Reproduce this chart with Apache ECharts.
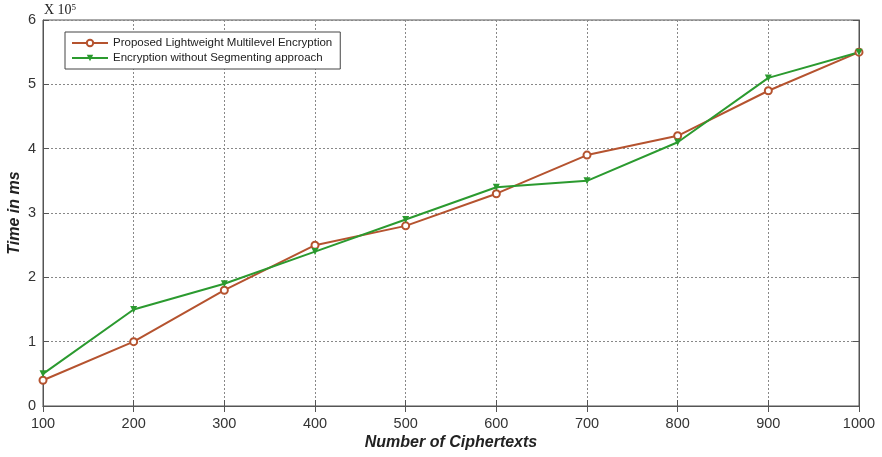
<!DOCTYPE html>
<html>
<head>
<meta charset="utf-8">
<script src="https://cdn.jsdelivr.net/npm/echarts@6/dist/echarts.min.js"></script>
<style>
  html, body { margin: 0; padding: 0; background: #fff; }
  #chart { width: 882px; height: 457px; }
</style>
</head>
<body>
<div id="chart"></div>
<script>
// Number of ciphertexts on the x axis
var ciphertexts = [100, 200, 300, 400, 500, 600, 700, 800, 900, 1000];
// Time in ms, in units of 10^5
var proposedTime = [0.4, 1.0, 1.8, 2.5, 2.8, 3.3, 3.9, 4.2, 4.9, 5.5];
var noSegmentTime = [0.5, 1.5, 1.9, 2.4, 2.9, 3.4, 3.5, 4.1, 5.1, 5.5];
var seriesNames = ['Proposed Lightweight Multilevel Encryption', 'Encryption without Segmenting approach'];

function pairs(xs, ys) {
  return xs.map(function (x, i) { return [x, ys[i]]; });
}

var chart = echarts.init(document.getElementById('chart'));
var axisText = { color: '#333', fontFamily: 'Liberation Sans, Arial, sans-serif', fontSize: 14.5 };
var gridLine = { show: true, lineStyle: { color: '#888', type: [2, 2], width: 1 } };
var nameText = { fontFamily: 'Liberation Sans, Arial, sans-serif', fontSize: 16, fontWeight: 'bold', fontStyle: 'italic', color: '#222' };

chart.setOption({
  animation: false,
  backgroundColor: '#fff',
  grid: {
    left: 43, right: 23, top: 20, bottom: 51,
    outerBoundsMode: 'none', containLabel: false,
    show: true, borderColor: '#555', borderWidth: 1, backgroundColor: 'transparent'
  },
  legend: {
    orient: 'vertical',
    left: 65,
    top: 32,
    itemWidth: 36,
    itemHeight: 8,
    itemGap: 3,
    padding: [5, 8, 5, 6],
    borderColor: '#444',
    borderWidth: 1,
    backgroundColor: '#fff',
    textStyle: { color: '#222', fontFamily: 'Liberation Sans, Arial, sans-serif', fontSize: 11.5 },
    data: seriesNames
  },
  graphic: [
    {
      type: 'text', left: 44, top: 3,
      style: {
        text: '{b|X 10}{s|5}',
        rich: {
          b: { fontFamily: 'Liberation Serif, Times New Roman, serif', fontSize: 14, fill: '#222' },
          s: { fontFamily: 'Liberation Serif, Times New Roman, serif', fontSize: 9, fill: '#222', verticalAlign: 'top', padding: [0, 0, 6, 0] }
        }
      }
    }
  ],
  xAxis: [
    {
      type: 'value', min: 100, max: 1000, interval: 100,
      name: 'Number of Ciphertexts', nameLocation: 'middle', nameGap: 29, nameMoveOverlap: false,
      nameTextStyle: nameText,
      axisLine: { lineStyle: { color: '#555' } },
      axisTick: { inside: true, length: 6, lineStyle: { color: '#555' } },
      axisLabel: Object.assign({ margin: 10, formatter: function (v) { return String(v); } }, axisText),
      splitLine: gridLine
    },
    {
      type: 'value', min: 100, max: 1000, interval: 100, position: 'top',
      axisLine: { lineStyle: { color: '#555' } },
      axisTick: { inside: true, length: 6, lineStyle: { color: '#555' } },
      axisLabel: { show: false }, splitLine: { show: false }
    }
  ],
  yAxis: [
    {
      type: 'value', min: 0, max: 6, interval: 1,
      name: 'Time in ms', nameLocation: 'middle', nameGap: 20, nameRotate: 90, nameMoveOverlap: false,
      nameTextStyle: nameText,
      axisLine: { lineStyle: { color: '#555' } },
      axisTick: { inside: true, length: 6, lineStyle: { color: '#555' } },
      axisLabel: Object.assign({ margin: 7 }, axisText),
      splitLine: gridLine
    },
    {
      type: 'value', min: 0, max: 6, interval: 1, position: 'right',
      axisLine: { lineStyle: { color: '#555' } },
      axisTick: { inside: true, length: 6, lineStyle: { color: '#555' } },
      axisLabel: { show: false }, splitLine: { show: false }
    }
  ],
  series: [
    {
      name: seriesNames[0], type: 'line', data: pairs(ciphertexts, proposedTime),
      symbol: 'emptyCircle', symbolSize: 7,
      lineStyle: { color: '#b5532f', width: 2 },
      itemStyle: { color: '#b5532f', borderColor: '#b5532f', borderWidth: 1.5 }
    },
    {
      name: seriesNames[1], type: 'line', data: pairs(ciphertexts, noSegmentTime),
      symbol: 'triangle', symbolRotate: 180, symbolSize: 7,
      lineStyle: { color: '#2b9a2f', width: 2 },
      itemStyle: { color: '#2b9a2f' }
    }
  ]
});
</script>
</body>
</html>
